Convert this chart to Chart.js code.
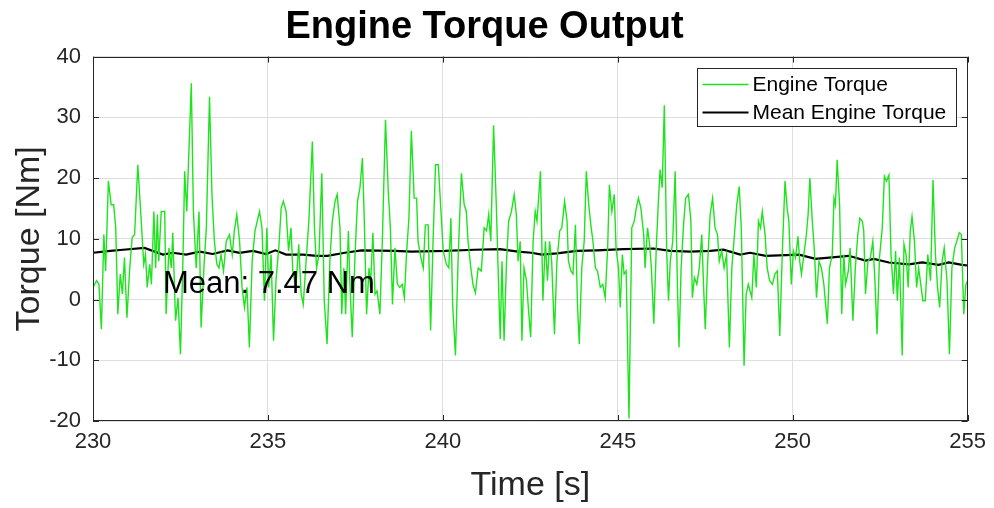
<!DOCTYPE html>
<html><head><meta charset="utf-8">
<script src="https://cdn.jsdelivr.net/npm/chart.js@4.4.0/dist/chart.umd.min.js"></script>
<style>html,body{margin:0;padding:0;background:#fff;}#wrap{width:994px;height:508px;}</style>
</head><body><div id="wrap"><canvas id="c" width="994" height="508"></canvas></div>
<script>
// ---- data ----
const chartTitle = 'Engine Torque Output';
const xTitle = 'Time [s]';
const yTitle = 'Torque [Nm]';
const seriesNames = ['Engine Torque', 'Mean Engine Torque'];
const xTicks = [230, 235, 240, 245, 250, 255];
const yTicks = [-20, -10, 0, 10, 20, 30, 40];
const meanLabelText = 'Mean: 7.47 Nm';
const meanLabelPos = [232.0, 1.0];

const timeS = [
230.00,230.10,230.17,230.24,230.31,230.36,230.44,230.52,230.59,230.65,230.71,230.78,230.84,230.90,230.97,
231.05,231.12,231.19,231.28,231.38,231.45,231.50,231.55,231.62,231.67,231.74,231.79,231.84,231.88,231.95,
232.05,232.09,232.17,232.24,232.28,232.36,232.43,232.50,232.57,232.62,232.68,232.81,232.87,232.95,
233.03,233.09,233.17,233.24,233.33,233.40,233.47,233.54,233.60,233.66,233.73,233.81,233.90,233.98,
234.04,234.11,234.19,234.26,234.33,234.40,234.47,234.55,234.63,234.76,234.83,234.90,234.97,
235.02,235.09,235.16,235.23,235.31,235.38,235.44,235.52,235.59,235.66,235.71,235.80,235.88,235.95,
236.01,236.09,236.17,236.27,236.33,236.39,236.46,236.54,236.61,236.69,236.77,236.84,236.92,236.98,
237.06,237.11,237.17,237.22,237.30,237.34,237.41,237.49,237.56,237.63,237.70,237.75,237.82,237.89,237.93,
238.00,238.06,238.12,238.20,238.27,238.36,238.44,238.50,238.56,238.63,238.70,238.77,238.84,238.90,238.96,
239.03,239.10,239.18,239.25,239.29,239.37,239.44,239.50,239.58,239.65,239.72,239.79,239.87,239.94,
240.01,240.10,240.17,240.23,240.28,240.36,240.44,240.53,240.61,240.67,240.72,240.80,240.86,240.93,
241.01,241.10,241.18,241.25,241.31,241.37,241.45,241.53,241.60,241.64,241.69,241.75,241.82,241.88,241.96,
242.04,242.10,242.15,242.21,242.26,242.32,242.39,242.45,242.51,242.58,242.64,242.69,242.79,242.86,242.93,242.99,
243.05,243.11,243.19,243.26,243.34,243.40,243.48,243.55,243.59,243.66,243.72,243.79,243.85,243.90,243.97,
244.04,244.10,244.17,244.23,244.29,244.36,244.42,244.50,244.57,244.64,244.71,244.76,244.83,244.90,244.95,
245.02,245.07,245.13,245.18,245.24,245.32,245.40,245.47,245.53,245.59,245.66,245.74,245.78,245.85,245.91,245.96,
246.03,246.10,246.16,246.21,246.27,246.33,246.40,246.45,246.50,246.57,246.64,246.71,246.75,246.81,246.88,246.94,
247.02,247.09,247.13,247.19,247.26,247.33,247.40,247.45,247.50,247.57,247.64,247.71,247.78,247.85,247.90,247.97,
248.04,248.11,248.19,248.26,248.32,248.40,248.47,248.53,248.61,248.67,248.73,248.83,248.89,248.96,
249.02,249.08,249.13,249.21,249.27,249.34,249.42,249.49,249.56,249.63,249.70,249.78,249.84,249.89,249.96,
250.02,250.08,250.15,250.20,250.25,250.32,250.39,250.44,250.49,250.56,250.62,250.68,250.75,250.82,250.89,250.99,
251.05,251.13,251.18,251.22,251.27,251.34,251.40,251.46,251.51,251.59,251.64,251.72,251.79,251.86,251.92,251.99,
252.03,252.08,252.15,252.22,252.29,252.35,252.41,252.48,252.56,252.62,252.68,252.75,252.81,252.88,252.94,252.99,
253.05,253.13,253.18,253.24,253.30,253.36,253.41,253.48,253.54,253.60,253.66,253.72,253.79,253.86,253.94,
254.01,254.08,254.14,254.20,254.27,254.33,254.41,254.48,254.55,254.63,254.69,254.76,254.82,254.89,254.95,255.00
];
const engineTorque = [
2.0,3.1,2.5,-4.9,10.7,4.7,19.5,15.6,15.6,11.8,-2.4,4.2,0.9,6.9,-3.0,
5.2,10.2,10.7,22.2,12.9,5.8,7.4,2.0,5.8,2.5,14.5,5.2,14.0,6.3,14.5,
14.5,-2.4,8.5,5.2,11.0,-3.5,0.3,-9.0,6.3,21.1,14.5,35.6,14.5,5.2,
14.5,-4.6,5.2,11.8,33.4,17.3,9.6,5.8,5.2,7.4,4.7,9.6,10.7,7.4,
11.3,14.0,9.6,2.0,-1.3,2.0,-7.9,6.3,11.3,14.5,11.8,-0.2,11.8,
2.0,7.4,-6.8,3.1,8.5,15.1,16.2,14.5,8.0,11.8,4.7,2.0,9.1,0.9,
-0.8,6.3,12.9,26.0,11.8,5.2,7.4,20.8,-0.2,-7.3,6.3,12.9,16.2,17.3,
11.8,-2.4,5.2,-2.4,11.3,3.1,-6.2,7.4,16.2,18.4,23.3,14.0,-2.4,5.2,2.0,
11.0,0.9,1.4,-2.4,9.6,29.6,17.8,11.8,-0.8,8.5,2.5,2.0,2.5,0.3,7.4,
13.4,27.8,16.7,16.7,9.6,6.9,5.2,12.3,12.3,-5.1,9.6,22.2,22.2,15.1,
8.0,5.8,5.2,13.4,-0.8,-9.2,7.4,20.8,15.6,14.5,9.6,5.2,2.5,1.1,
5.2,4.7,11.8,11.3,14.0,9.6,28.7,15.1,0.9,-6.5,6.3,-6.8,6.3,12.9,14.5,
17.3,14.0,6.3,9.6,-6.8,5.2,3.1,-1.9,-6.2,9.6,14.5,12.9,21.1,-0.2,9.6,3.1,
9.6,6.3,-5.7,6.3,11.3,11.8,16.2,12.9,6.3,4.7,4.2,12.3,-1.3,-7.3,5.2,
9.6,21.1,15.6,12.3,9.6,5.2,4.7,2.0,2.5,0.3,8.5,18.9,14.5,17.3,8.5,
5.2,-1.3,7.4,4.2,4.7,-19.6,11.8,12.9,15.1,16.7,15.1,10.7,5.2,11.8,9.1,5.2,
-4.0,8.5,16.2,21.4,18.4,32.0,7.4,-0.2,6.3,9.6,21.1,0.9,-7.9,5.2,12.3,16.7,
17.3,12.9,0.3,3.6,2.5,5.2,10.7,2.5,-4.9,6.3,14.0,16.7,11.8,10.7,6.3,8.0,
5.2,7.4,-7.9,5.2,9.6,15.6,18.6,11.8,-10.9,0.9,2.5,0.3,7.4,2.0,
12.9,11.8,14.5,10.7,5.2,3.1,2.5,4.2,4.7,-6.0,7.4,19.5,15.1,12.9,2.5,
8.0,6.9,10.4,6.3,4.2,7.4,10.7,14.0,20.0,12.9,8.0,0.3,6.3,5.2,2.5,-4.0,
5.2,7.4,16.7,15.6,23.0,15.6,-2.4,7.4,2.5,4.7,8.5,-3.5,5.2,10.7,13.4,12.9,
11.3,0.9,6.3,6.9,9.6,3.1,-5.7,6.9,11.8,20.3,19.5,20.5,7.4,0.9,8.0,-0.2,
6.9,-9.2,9.1,7.4,2.0,11.3,13.7,9.6,2.0,5.2,2.5,-0.2,-0.2,7.4,3.1,
19.7,7.4,2.0,-1.3,6.3,8.5,3.1,-9.0,5.2,8.5,9.6,11.0,10.7,-2.4,2.5,3.1
];
const meanTime = [230.00,230.50,230.86,231.47,232.00,232.28,232.66,233.05,233.42,233.85,234.19,234.57,234.95,235.21,235.52,
236.00,236.40,236.70,237.20,237.68,238.63,239.10,240.06,240.91,241.63,242.15,242.53,242.83,243.26,243.83,244.40,
245.16,246.02,246.50,247.07,247.64,248.02,248.50,248.78,249.23,250.18,250.65,251.60,252.08,252.32,252.75,253.32,
253.70,254.17,254.46,254.84,255.00];
const meanTorque = [7.7,8.0,8.2,8.5,7.4,7.7,7.4,7.9,7.5,8.1,7.7,8.0,7.5,8.1,7.4,
7.4,7.2,7.2,7.7,8.1,8.0,7.9,8.0,8.2,8.3,7.9,7.7,7.4,7.6,8.0,8.1,
8.3,8.4,8.0,7.9,8.0,8.2,7.4,7.7,7.2,7.4,6.7,7.2,6.4,6.7,6.1,5.8,
6.1,5.7,6.1,5.7,5.6];

// ---- chart ----
const FONT = "'Liberation Sans', Arial, Helvetica, sans-serif";
Chart.defaults.font.family = FONT;
const AX = '#262626';

const decor = {
  id: 'decor',
  afterDatasetsDraw(chart) {
    const {ctx, chartArea: a, scales: {x, y}} = chart;
    ctx.save();
    // mean annotation
    ctx.font = '31px ' + FONT;
    ctx.fillStyle = '#000';
    ctx.textAlign = 'left';
    ctx.textBaseline = 'alphabetic';
    ctx.fillText(meanLabelText, x.getPixelForValue(meanLabelPos[0]), y.getPixelForValue(meanLabelPos[1]));
    // axes box
    ctx.strokeStyle = AX;
    ctx.lineWidth = 1;
    ctx.strokeRect(Math.round(a.left) + 0.5, Math.round(a.top) + 0.5, Math.round(a.right) - Math.round(a.left) - 1, Math.round(a.bottom) - Math.round(a.top) - 1);
    // inward tick marks
    ctx.beginPath();
    xTicks.forEach(v => {
      const px = Math.round(x.getPixelForValue(v)) + 0.5;
      ctx.moveTo(px, a.bottom); ctx.lineTo(px, a.bottom - 6);
      ctx.moveTo(px, a.top); ctx.lineTo(px, a.top + 6);
    });
    yTicks.forEach(v => {
      const py = Math.round(y.getPixelForValue(v)) + 0.5;
      ctx.moveTo(a.left, py); ctx.lineTo(a.left + 6, py);
      ctx.moveTo(a.right, py); ctx.lineTo(a.right - 6, py);
    });
    ctx.stroke();
    // legend
    const lw = 259, lh = 58;
    const lx = Math.round(a.right - 12 - lw) + 0.5, ly = Math.round(a.top + 11) + 0.5;
    ctx.fillStyle = '#fff';
    ctx.fillRect(lx, ly, lw, lh);
    ctx.strokeStyle = AX;
    ctx.lineWidth = 1;
    ctx.strokeRect(lx, ly, lw, lh);
    chart.data.datasets.forEach((ds, i) => {
      const yy = ly + 16 + i * 28;
      ctx.beginPath();
      ctx.strokeStyle = ds.borderColor;
      ctx.lineWidth = ds.borderWidth;
      ctx.moveTo(lx + 5, yy); ctx.lineTo(lx + 51, yy);
      ctx.stroke();
      ctx.fillStyle = '#000';
      ctx.font = '21px ' + FONT;
      ctx.textBaseline = 'middle';
      ctx.fillText(ds.label, lx + 55, yy + 1);
    });
    ctx.restore();
  }
};

new Chart(document.getElementById('c'), {
  type: 'line',
  data: {
    datasets: [
      { label: seriesNames[0], data: timeS.map((t, i) => ({x: t, y: engineTorque[i]})),
        borderColor: 'rgb(30,228,30)', borderWidth: 1.4, pointRadius: 0, tension: 0, fill: false },
      { label: seriesNames[1], data: meanTime.map((t, i) => ({x: t, y: meanTorque[i]})),
        borderColor: '#000', borderWidth: 2.2, pointRadius: 0, tension: 0, fill: false }
    ]
  },
  options: {
    responsive: false,
    animation: false,
    devicePixelRatio: 1,
    layout: { padding: { left: 0, right: 25, top: 0, bottom: 0 } },
    plugins: {
      legend: { display: false },
      tooltip: { enabled: false },
      title: { display: true, text: chartTitle, color: '#000',
        font: { size: 38, weight: 'bold', lineHeight: 1.2 }, padding: { top: 5, bottom: 6 } }
    },
    scales: {
      x: {
        type: 'linear', min: 230, max: 255,
        afterBuildTicks: s => { s.ticks = xTicks.map(v => ({value: v})); },
        afterFit: s => { s.height = 87; },
        ticks: { color: AX, font: { size: 22 }, padding: 8, maxRotation: 0, autoSkip: false },
        grid: { color: '#dedede', lineWidth: 1, drawTicks: false },
        border: { display: false },
        title: { display: true, text: xTitle, color: AX, font: { size: 34, lineHeight: 1.2 }, padding: { top: 0, bottom: 2 } }
      },
      y: {
        type: 'linear', min: -20, max: 40,
        afterBuildTicks: s => { s.ticks = yTicks.map(v => ({value: v})); },
        afterFit: s => { s.width = 93; },
        ticks: { color: AX, font: { size: 22 }, padding: 12 },
        grid: { color: '#dedede', lineWidth: 1, drawTicks: false },
        border: { display: false },
        title: { display: true, text: yTitle, color: AX, font: { size: 34, lineHeight: 1.2 }, padding: { top: 9, bottom: 0 } }
      }
    }
  },
  plugins: [decor]
});
</script></body></html>
